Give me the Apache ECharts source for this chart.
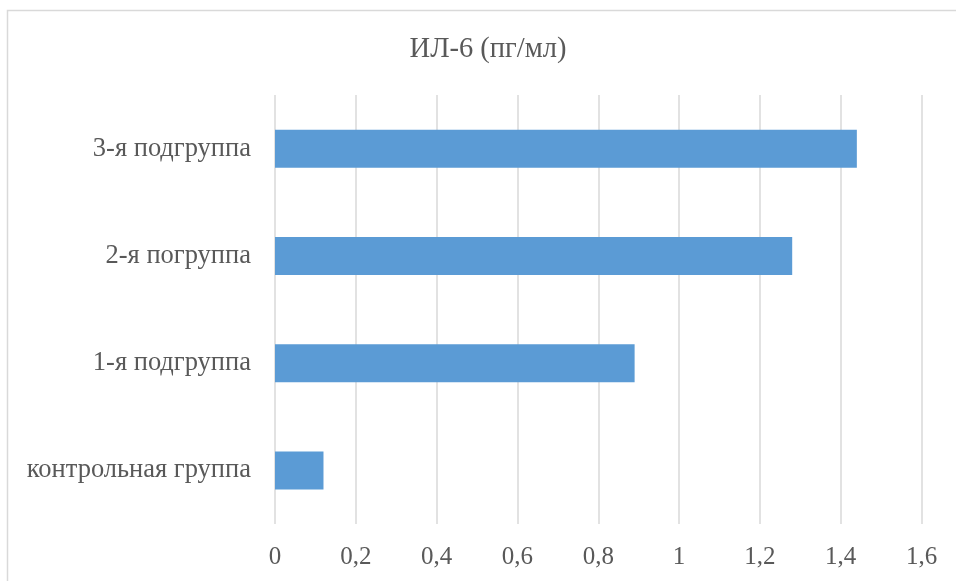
<!DOCTYPE html>
<html>
<head>
<meta charset="utf-8">
<script src="https://cdn.jsdelivr.net/npm/echarts@6/dist/echarts.min.js"></script>
<style>
  html, body { margin: 0; padding: 0; background: #ffffff; }
  #chart { width: 956px; height: 581px; }
</style>
</head>
<body>
<div id="chart"></div>
<script>
// Interleukin-6 levels per group (pg/ml)
const chartTitle = 'ИЛ-6 (пг/мл)';
const categories = ['контрольная группа', '1-я подгруппа', '2-я погруппа', '3-я подгруппа'];
const il6Values = [0.12, 0.89, 1.28, 1.44];
const tickLabels = ['0', '0,2', '0,4', '0,6', '0,8', '1', '1,2', '1,4', '1,6'];

const textColor = '#595959';
const fontFamily = '"Liberation Serif", "Times New Roman", serif';

const chart = echarts.init(document.getElementById('chart'), null, { renderer: 'canvas' });

chart.setOption({
  animation: false,
  backgroundColor: '#ffffff',
  title: {
    text: chartTitle,
    left: 483,
    top: 30,
    textAlign: 'center',
    textStyle: { color: textColor, fontFamily: fontFamily, fontSize: 28.5, fontWeight: 'normal' }
  },
  graphic: [{
    type: 'rect',
    shape: { x: 7.5, y: 10.5, width: 1000, height: 1000 },
    style: { fill: 'none', stroke: '#d9d9d9', lineWidth: 1.5 },
    silent: true
  }],
  grid: { left: 275, right: 34.5, top: 95, bottom: 57, containLabel: false },
  xAxis: {
    type: 'value',
    min: 0,
    max: 1.6,
    interval: 0.2,
    axisLine: { show: false },
    axisTick: { show: false },
    splitLine: { show: true, lineStyle: { color: '#d9d9d9', width: 1.5 } },
    axisLabel: {
      color: textColor,
      fontFamily: fontFamily,
      fontSize: 25,
      margin: 21,
      formatter: function (v) {
        const i = Math.round(v / 0.2);
        return tickLabels[i] !== undefined ? tickLabels[i] : '';
      }
    }
  },
  yAxis: {
    type: 'category',
    data: categories,
    axisLine: { show: false },
    axisTick: { show: false },
    splitLine: { show: false },
    axisLabel: {
      color: textColor,
      fontFamily: fontFamily,
      fontSize: 26.5,
      margin: 24
    }
  },
  series: [{
    type: 'bar',
    data: il6Values,
    barWidth: 38,
    itemStyle: { color: '#5b9bd5' }
  }]
});
</script>
</body>
</html>
